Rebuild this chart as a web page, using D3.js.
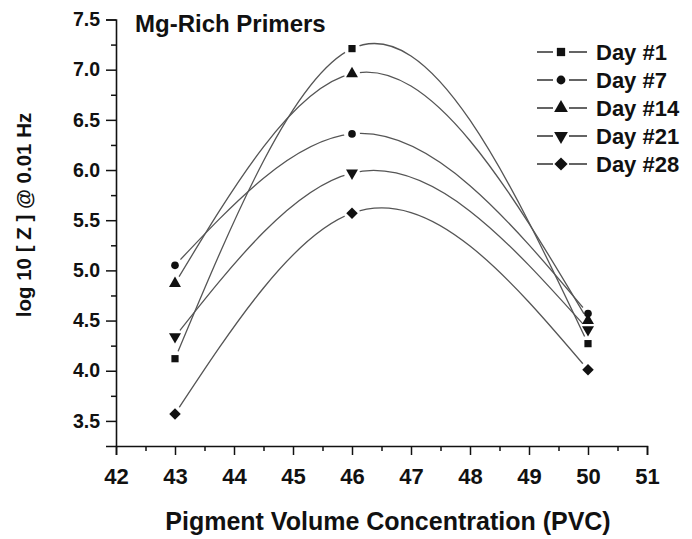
<!DOCTYPE html>
<html>
<head>
<meta charset="utf-8">
<script src="https://cdn.jsdelivr.net/npm/d3@7"></script>
<style>
  html, body { margin: 0; padding: 0; background: #fff; }
  svg { display: block; font-family: "Liberation Sans", Arial, Helvetica, sans-serif; font-weight: bold; }
</style>
</head>
<body>
<svg id="chart" width="692" height="539"></svg>
<script>
// Pigment volume concentration of each primer
const pvc = [43, 46, 50];

// log10 |Z| at 0.01 Hz for each immersion day
const seriesNames = ["Day #1", "Day #7", "Day #14", "Day #21", "Day #28"];
const day1  = [4.12, 7.21, 4.27];
const day7  = [5.05, 6.36, 4.57];
const day14 = [4.87, 6.96, 4.50];
const day21 = [4.34, 5.97, 4.41];
const day28 = [3.57, 5.57, 4.01];
const seriesValues = [day1, day7, day14, day21, day28];
const markerKinds = ["square", "circle", "triangleUp", "triangleDown", "diamond"];

const xTicks = [42, 43, 44, 45, 46, 47, 48, 49, 50, 51];
const yTicks = [3.5, 4.0, 4.5, 5.0, 5.5, 6.0, 6.5, 7.0, 7.5];

const svg = d3.select("#chart");

const x = d3.scaleLinear().domain([42, 51]).range([116, 647]);
const y = d3.scaleLinear().domain([3.25, 7.5]).range([446, 19.5]);

// Natural cubic spline with y as a function of x, emitted as Bezier segments
function curveNaturalX(context) {
  return {
    areaStart() {}, areaEnd() {},
    lineStart() { this.xs = []; this.ys = []; },
    point(px, py) { this.xs.push(+px); this.ys.push(+py); },
    lineEnd() {
      const X = this.xs, Y = this.ys, n = X.length;
      if (!n) return;
      context.moveTo(X[0], Y[0]);
      if (n === 1) return;
      const h = [], s = [];
      for (let i = 0; i < n - 1; i++) { h[i] = X[i + 1] - X[i]; s[i] = (Y[i + 1] - Y[i]) / h[i]; }
      const M = new Array(n).fill(0);
      if (n > 2) {
        const m = n - 2, a = [], b = [], c = [], r = [];
        for (let k = 0; k < m; k++) {
          const i = k + 1;
          a[k] = h[i - 1]; b[k] = 2 * (h[i - 1] + h[i]); c[k] = h[i];
          r[k] = 6 * (s[i] - s[i - 1]);
        }
        for (let k = 1; k < m; k++) {
          const w = a[k] / b[k - 1];
          b[k] -= w * c[k - 1]; r[k] -= w * r[k - 1];
        }
        const sol = new Array(m);
        sol[m - 1] = r[m - 1] / b[m - 1];
        for (let k = m - 2; k >= 0; k--) sol[k] = (r[k] - c[k] * sol[k + 1]) / b[k];
        for (let k = 0; k < m; k++) M[k + 1] = sol[k];
      }
      for (let i = 0; i < n - 1; i++) {
        const d0 = s[i] - h[i] * (2 * M[i] + M[i + 1]) / 6;
        const d1 = s[i] + h[i] * (M[i] + 2 * M[i + 1]) / 6;
        context.bezierCurveTo(
          X[i] + h[i] / 3, Y[i] + d0 * h[i] / 3,
          X[i + 1] - h[i] / 3, Y[i + 1] - d1 * h[i] / 3,
          X[i + 1], Y[i + 1]);
      }
    }
  };
}

function markerPath(kind, scale) {
  const k = scale || 1;
  switch (kind) {
    case "square": return d3.symbol(d3.symbolSquare, 52 * k * k)();
    case "circle": return d3.symbol(d3.symbolCircle, 46 * k * k)();
    case "triangleUp": return d3.symbol(d3.symbolTriangle, 62 * k * k)();
    case "triangleDown": return d3.symbol(d3.symbolTriangle, 62 * k * k)();
    case "diamond": return d3.symbol(d3.symbolSquare, 66 * k * k)();
  }
}
function markerRotate(kind) {
  if (kind === "triangleDown") return " rotate(180)";
  if (kind === "diamond") return " rotate(45)";
  return "";
}

// Axes
const yAxis = d3.axisLeft(y).tickValues(yTicks).tickFormat(d3.format(".1f")).tickSizeOuter(0).tickSize(10).tickPadding(6);
const yMinor = d3.axisLeft(y).tickValues(d3.range(3.75, 7.5, 0.5)).tickFormat("").tickSize(5).tickSizeOuter(0);
const xAxis = d3.axisBottom(x).tickValues(xTicks).tickFormat(d3.format("d")).tickSizeOuter(0).tickSize(9).tickPadding(13);
const xMinor = d3.axisBottom(x).tickValues(d3.range(42.5, 51, 1)).tickFormat("").tickSize(5).tickSizeOuter(0);

const gy = svg.append("g").attr("transform", `translate(${x(42)},0)`);
gy.call(yAxis);
svg.append("g").attr("transform", `translate(${x(42)},0)`).call(yMinor).select(".domain").remove();
const gx = svg.append("g").attr("transform", `translate(0,${y(3.25)})`);
gx.call(xAxis);
svg.append("g").attr("transform", `translate(0,${y(3.25)})`).call(xMinor).select(".domain").remove();

svg.selectAll(".domain").attr("stroke", "#111").attr("stroke-width", 1.6);
svg.selectAll(".tick line").attr("stroke", "#111").attr("stroke-width", 1.5);
gy.selectAll(".tick text").attr("font-size", 19.5).attr("font-weight", "bold").attr("fill", "#111")
  .attr("font-family", "Liberation Sans, Arial, sans-serif");
gx.selectAll(".tick text").attr("font-size", 22).attr("font-weight", "bold").attr("fill", "#111")
  .attr("font-family", "Liberation Sans, Arial, sans-serif");

// Axis titles and panel title
svg.append("text")
  .attr("x", 388).attr("y", 530)
  .attr("text-anchor", "middle").attr("font-size", 25).attr("fill", "#111")
  .text("Pigment Volume Concentration (PVC)");
svg.append("text")
  .attr("transform", "translate(31,215) rotate(-90)")
  .attr("text-anchor", "middle").attr("font-size", 20.5).attr("fill", "#111")
  .text("log 10 [ Z ] @ 0.01 Hz");
svg.append("text")
  .attr("x", 135).attr("y", 31.5)
  .attr("font-size", 24).attr("fill", "#111")
  .text("Mg-Rich Primers");

// Series curves, with a small gap cut around each of their own markers
const defs = svg.append("defs");
const line = d3.line().x(d => x(d[0])).y(d => y(d[1])).curve(curveNaturalX);

seriesValues.forEach((vals, si) => {
  const pts = pvc.map((p, i) => [p, vals[i]]);
  const mask = defs.append("mask").attr("id", "gap" + si).attr("maskUnits", "userSpaceOnUse")
    .attr("x", 0).attr("y", 0).attr("width", 692).attr("height", 539);
  mask.append("rect").attr("width", 692).attr("height", 539).attr("fill", "#fff");
  mask.selectAll("circle").data(pts).join("circle")
    .attr("cx", d => x(d[0])).attr("cy", d => y(d[1])).attr("r", 8).attr("fill", "#000");
  svg.append("path")
    .attr("d", line(pts))
    .attr("fill", "none").attr("stroke", "#555").attr("stroke-width", 1.3)
    .attr("mask", `url(#gap${si})`);
});

seriesValues.forEach((vals, si) => {
  const kind = markerKinds[si];
  svg.append("g").selectAll("path").data(pvc.map((p, i) => [p, vals[i]])).join("path")
    .attr("d", markerPath(kind))
    .attr("transform", d => `translate(${x(d[0])},${y(d[1])})${markerRotate(kind)}`)
    .attr("fill", "#111");
});

// Legend
const legend = svg.append("g");
seriesNames.forEach((name, i) => {
  const cy = 52 + i * 28;
  const row = legend.append("g").attr("transform", `translate(0,${cy})`);
  row.append("line").attr("x1", 537).attr("x2", 553).attr("y1", 0).attr("y2", 0)
    .attr("stroke", "#222").attr("stroke-width", 1.4);
  row.append("line").attr("x1", 569).attr("x2", 587).attr("y1", 0).attr("y2", 0)
    .attr("stroke", "#222").attr("stroke-width", 1.4);
  row.append("path").attr("d", markerPath(markerKinds[i], 1.15))
    .attr("transform", `translate(561,0)${markerRotate(markerKinds[i])}`).attr("fill", "#111");
  row.append("text").attr("x", 596).attr("y", 8).attr("font-size", 22).attr("fill", "#111").text(name);
});
</script>
</body>
</html>
